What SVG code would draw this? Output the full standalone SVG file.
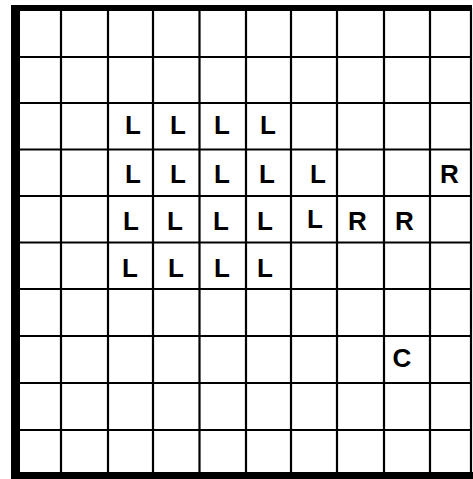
<svg xmlns="http://www.w3.org/2000/svg" width="473" height="479" viewBox="0 0 473 479">
<style>
.g line{stroke:#000;stroke-width:2.2}
.t{font-family:"Liberation Sans",Arial,sans-serif;font-weight:bold;font-size:26px;fill:#000}
</style>
<rect width="473" height="479" fill="#fff"/>
<g id="grid" class="g">
<line x1="61" y1="8" x2="61" y2="475"/>
<line x1="108" y1="8" x2="108" y2="475"/>
<line x1="153" y1="8" x2="153" y2="475"/>
<line x1="199.5" y1="8" x2="199.5" y2="475"/>
<line x1="246" y1="8" x2="246" y2="475"/>
<line x1="291" y1="8" x2="291" y2="475"/>
<line x1="337" y1="8" x2="337" y2="475"/>
<line x1="384" y1="8" x2="384" y2="475"/>
<line x1="430" y1="8" x2="430" y2="475"/>
<line x1="471" y1="8" x2="471" y2="475"/>
<line x1="15" y1="57" x2="471" y2="57"/>
<line x1="15" y1="103" x2="471" y2="103"/>
<line x1="15" y1="149.5" x2="471" y2="149.5"/>
<line x1="15" y1="196" x2="471" y2="196"/>
<line x1="15" y1="242.5" x2="471" y2="242.5"/>
<line x1="15" y1="289" x2="471" y2="289"/>
<line x1="15" y1="336" x2="471" y2="336"/>
<line x1="15" y1="383" x2="471" y2="383"/>
<line x1="15" y1="430" x2="471" y2="430"/>
</g>
<g id="border" fill="#000">
<rect x="11" y="5" width="461" height="6"/>
<rect x="11" y="5" width="9" height="474"/>
<rect x="11" y="472" width="462" height="7"/>
</g>
<g id="letters" class="t">
<text x="125" y="134">L</text>
<text x="170" y="134">L</text>
<text x="214" y="134">L</text>
<text x="260" y="134">L</text>
<text x="125" y="183">L</text>
<text x="170" y="183">L</text>
<text x="214" y="183">L</text>
<text x="259" y="183">L</text>
<text x="310" y="183">L</text>
<text x="123" y="230">L</text>
<text x="167" y="230">L</text>
<text x="213" y="230">L</text>
<text x="257" y="230">L</text>
<text x="307" y="228">L</text>
<text x="122" y="277">L</text>
<text x="168" y="277">L</text>
<text x="214" y="277">L</text>
<text x="257" y="277">L</text>
<text x="440" y="183">R</text>
<text x="348" y="230">R</text>
<text x="395" y="230">R</text>
<text x="392.5" y="367">C</text>
</g>
</svg>
